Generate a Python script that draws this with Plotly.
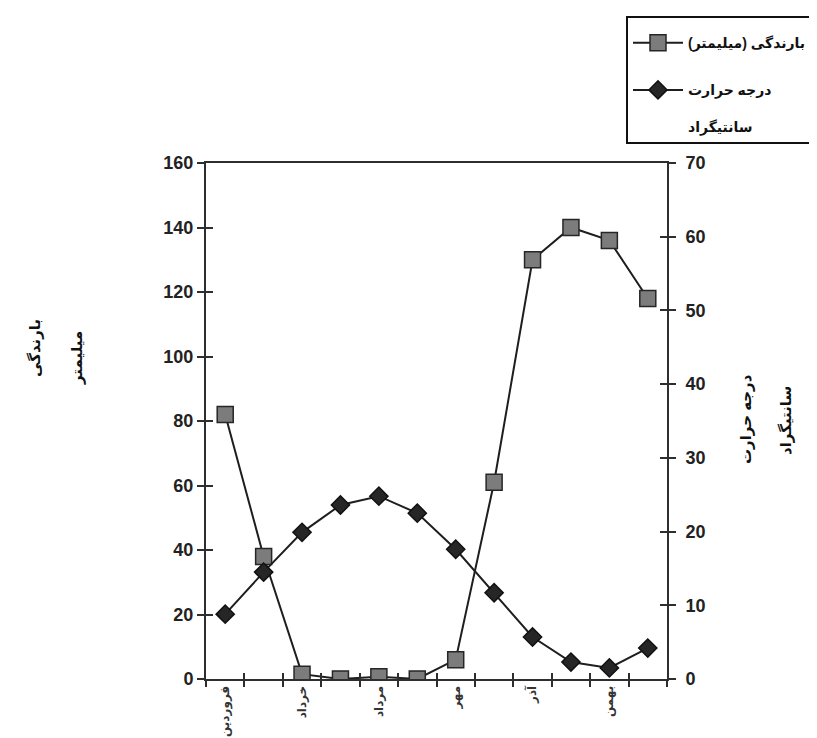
import plotly.graph_objects as go

months = ['فروردین', 'اردیبهشت', 'خرداد', 'تیر', 'مرداد', 'شهریور',
          'مهر', 'آبان', 'آذر', 'دی', 'بهمن', 'اسفند']
tick_labels = ['فروردین', '', 'خرداد', '', 'مرداد', '',
               'مهر', '', 'آذر', '', 'بهمن', '']
rain = [82, 38, 1.5, 0, 0.7, 0, 6, 61, 130, 140, 136, 118]
temp = [8.8, 14.5, 19.9, 23.6, 24.8, 22.5, 17.6, 11.7, 5.7, 2.3, 1.5, 4.2]

W, H = 817, 738
L, R, T, B = 198, 158, 155, 67
PW, PH = W - L - R, H - T - B


def px(x):
    return (x - L) / PW


def py(y):
    return (H - B - y) / PH


AX = '#2e2e2e'
FONT = 'Arial, Liberation Sans, DejaVu Sans'

fig = go.Figure()
fig.add_trace(go.Scatter(
    x=months, y=rain, name='بارندگی (میلیمتر)', mode='lines+markers',
    line=dict(color='#1e1e1e', width=2),
    marker=dict(symbol='square', size=16, color='#7c7c7c',
                line=dict(color='#262626', width=1.5)),
    xaxis='x', yaxis='y', legendgroup='a'))
fig.add_trace(go.Scatter(
    x=months, y=temp, name='درجه حرارت<br> <br>سانتیگراد', mode='lines+markers',
    line=dict(color='#1e1e1e', width=2),
    marker=dict(symbol='diamond', size=14, color='#262626',
                line=dict(color='#111111', width=1.5)),
    xaxis='x', yaxis='y2', legendgroup='b'))
# invisible traces to activate overlay axes (used for crossing ticks)
fig.add_trace(go.Scatter(x=months, y=rain, xaxis='x2', yaxis='y3', mode='markers',
                         marker=dict(opacity=0), showlegend=False, hoverinfo='skip'))
fig.add_trace(go.Scatter(x=months, y=temp, xaxis='x2', yaxis='y4', mode='markers',
                         marker=dict(opacity=0), showlegend=False, hoverinfo='skip'))

xcommon = dict(type='category', categoryorder='array', categoryarray=months,
               range=[-0.5, 11.5], tickmode='array', tickvals=months,
               ticktext=tick_labels, tickson='boundaries', ticklen=6, tickwidth=2,
               tickcolor=AX, showgrid=False, zeroline=False)
ycommon = dict(showgrid=False, zeroline=False, ticklen=7, tickwidth=2, tickcolor=AX)

fig.update_layout(
    width=W, height=H,
    margin=dict(l=L, r=R, t=T, b=B, autoexpand=False),
    paper_bgcolor='white', plot_bgcolor='white',
    font=dict(family=FONT, color='#222'),
    showlegend=True,
    xaxis=dict(**xcommon, ticks='outside', tickangle=-90,
               tickfont=dict(size=12, weight='bold', color='#333'),
               showline=True, linewidth=2, linecolor=AX, mirror=True),
    xaxis2=dict(**xcommon, ticks='inside', overlaying='x', anchor='y',
                showticklabels=False, showline=False),
    yaxis=dict(**ycommon, range=[0, 160], dtick=20, ticks='outside',
               showline=True, linewidth=2, linecolor=AX, anchor='x',
               tickfont=dict(size=18, weight='bold', color='#222')),
    yaxis3=dict(**ycommon, range=[0, 160], dtick=20, ticks='inside', overlaying='y',
                side='left', anchor='x', showticklabels=False, showline=False),
    yaxis2=dict(**ycommon, range=[0, 70], dtick=10, ticks='outside', overlaying='y',
                side='right', anchor='x', showline=True, linewidth=2, linecolor=AX,
                ticklabelstandoff=6,
                tickfont=dict(size=18, weight='bold', color='#222')),
    yaxis4=dict(**ycommon, range=[0, 70], dtick=10, ticks='inside', overlaying='y',
                side='right', anchor='x', showticklabels=False, showline=False),
    legend=dict(x=px(618), y=py(8), xanchor='left', yanchor='top',
                bordercolor='#111', borderwidth=2, bgcolor='white',
                font=dict(size=14, weight='bold', color='#111'),
                title=dict(text='\u00a0', font=dict(size=7)),
                valign='top', tracegroupgap=26, itemwidth=50,
                traceorder='grouped'),
)

title_font = dict(size=15, weight='bold', color='#111', family=FONT)
for txt, x, y in [('بارندگی', 27, 340), ('میلیمتر', 69, 350),
                  ('درجه حرارت', 738, 411), ('سانتیگراد', 778, 413)]:
    fig.add_annotation(text=txt, x=px(x), y=py(y), xref='paper', yref='paper',
                       showarrow=False, textangle=-90, font=title_font,
                       xanchor='center', yanchor='middle')

fig.write_html('out.html')
